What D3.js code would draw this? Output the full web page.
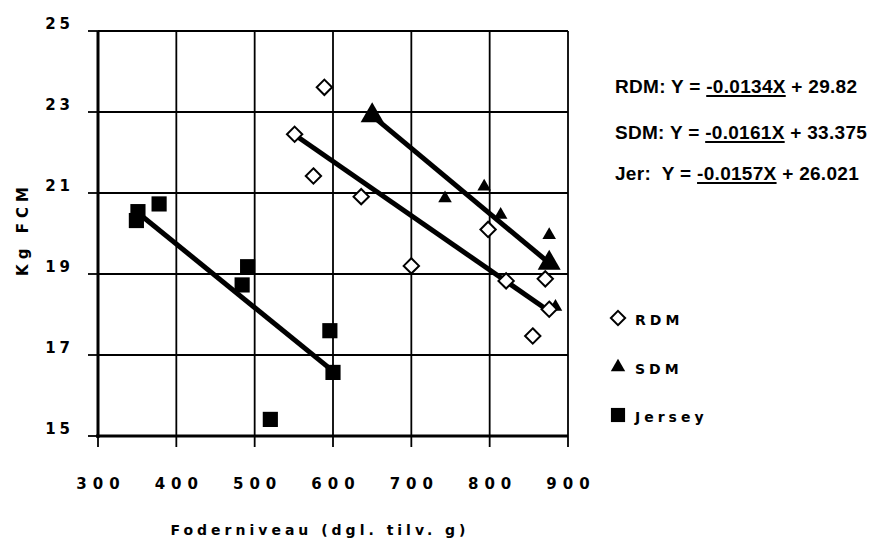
<!DOCTYPE html>
<html>
<head>
<meta charset="utf-8">
<script src="https://cdn.jsdelivr.net/npm/d3@7"></script>
<style>
  body { margin: 0; background: #fff; }
  .tick-label, .axis-title, .legend-label { font-family: "Comic Sans MS", "DejaVu Sans", sans-serif; font-weight: bold; fill: #000; }
  .eq { font-family: "Liberation Sans", Arial, sans-serif; font-weight: bold; font-size: 19px; letter-spacing: 0.3px; fill: #000; white-space: pre; }
</style>
</head>
<body>
<svg width="877" height="541"></svg>
<script>
// data
var rdmX = [589, 551, 575, 636, 700, 798, 821, 871, 876, 855];
var rdmY = [23.61, 22.45, 21.42, 20.91, 19.20, 20.10, 18.83, 18.88, 18.13, 17.47];

var sdmX = [650, 743, 793, 814, 876, 874, 884];
var sdmY = [22.9, 20.87, 21.16, 20.46, 19.96, 19.3, 18.19];

var jerX = [351, 349, 378, 491, 484, 596, 600, 520];
var jerY = [20.54, 20.32, 20.73, 19.18, 18.73, 17.60, 16.57, 15.41];

// regression lines: slope, intercept, x range
var fits = [
  {name: 'RDM', slope: -0.0134, icpt: 29.82, x0: 551, x1: 876},
  {name: 'SDM', slope: -0.0161, icpt: 33.375, x0: 650, x1: 876},
  {name: 'Jer', slope: -0.0157, icpt: 26.021, x0: 350, x1: 600}
];

var xTicks = [300, 400, 500, 600, 700, 800, 900];
var yTicks = [15, 17, 19, 21, 23, 25];

var equations = [
  {lead: 'RDM: Y = ', coef: '-0.0134X', tail: ' + 29.82'},
  {lead: 'SDM: Y = ', coef: '-0.0161X', tail: ' + 33.375'},
  {lead: 'Jer:  Y = ', coef: '-0.0157X', tail: ' + 26.021'}
];
var legendNames = ['RDM', 'SDM', 'Jersey'];

var svg = d3.select('svg');

var x = d3.scaleLinear().domain([300, 900]).range([98, 568]);
var y = d3.scaleLinear().domain([15, 25]).range([436, 31]);

// grid
svg.append('g').selectAll('line')
    .data(xTicks.slice(1)).enter().append('line')
    .attr('x1', d => x(d)).attr('x2', d => x(d))
    .attr('y1', y(25)).attr('y2', y(15))
    .attr('stroke', '#000').attr('stroke-width', 1.8);
svg.append('g').selectAll('line')
    .data(yTicks.slice(1)).enter().append('line')
    .attr('x1', x(300)).attr('x2', x(900))
    .attr('y1', d => y(d)).attr('y2', d => y(d))
    .attr('stroke', '#000').attr('stroke-width', 1.8);

// tick marks outside the plot
svg.append('g').selectAll('line')
    .data(yTicks).enter().append('line')
    .attr('x1', x(300) - 10).attr('x2', x(300))
    .attr('y1', d => y(d)).attr('y2', d => y(d))
    .attr('stroke', '#000').attr('stroke-width', 1.8);
svg.append('g').selectAll('line')
    .data(xTicks).enter().append('line')
    .attr('x1', d => x(d)).attr('x2', d => x(d))
    .attr('y1', y(15)).attr('y2', y(15) + 11)
    .attr('stroke', '#000').attr('stroke-width', 1.8);

// axis lines
svg.append('line').attr('x1', x(300)).attr('x2', x(300)).attr('y1', y(25)).attr('y2', y(15) + 2)
    .attr('stroke', '#000').attr('stroke-width', 3);
svg.append('line').attr('x1', x(300) - 2).attr('x2', x(900)).attr('y1', y(15)).attr('y2', y(15))
    .attr('stroke', '#000').attr('stroke-width', 3);

// tick labels
svg.append('g').selectAll('text')
    .data(yTicks).enter().append('text')
    .attr('class', 'tick-label')
    .attr('x', 74).attr('y', d => y(d) - 2)
    .attr('text-anchor', 'end')
    .style('font-size', '15px').style('letter-spacing', '4px')
    .text(d => d);
svg.append('g').selectAll('text')
    .data(xTicks).enter().append('text')
    .attr('class', 'tick-label')
    .attr('x', d => x(d) + 3).attr('y', 489)
    .attr('text-anchor', 'middle')
    .style('font-size', '15px').style('letter-spacing', '6px')
    .text(d => d);

// axis titles
svg.append('text').attr('class', 'axis-title')
    .attr('x', 320).attr('y', 535).attr('text-anchor', 'middle')
    .style('font-size', '14px').style('letter-spacing', '4px')
    .text('Foderniveau (dgl. tilv. g)');
svg.append('text').attr('class', 'axis-title')
    .attr('transform', 'translate(28,229) rotate(-90)')
    .attr('text-anchor', 'middle')
    .style('font-size', '15px').style('letter-spacing', '5px')
    .text('Kg FCM');

// regression lines
svg.append('g').selectAll('line')
    .data(fits).enter().append('line')
    .attr('x1', d => x(d.x0)).attr('y1', d => y(d.slope * d.x0 + d.icpt))
    .attr('x2', d => x(d.x1)).attr('y2', d => y(d.slope * d.x1 + d.icpt))
    .attr('stroke', '#000').attr('stroke-width', 5);

// markers
var diamond = d3.symbol().type(d3.symbolDiamond2).size(150);
var triangle = d3.symbol().type(d3.symbolTriangle).size(80);
var bigTriangle = d3.symbol().type(d3.symbolTriangle).size(230);
var square = d3.symbol().type(d3.symbolSquare).size(230);

// SDM fit line carries large triangle markers at its ends
var sdmFit = fits[1];
svg.append('g').selectAll('path')
    .data([sdmFit.x0, sdmFit.x1]).enter().append('path')
    .attr('d', bigTriangle)
    .attr('transform', d => 'translate(' + x(d) + ',' + y(sdmFit.slope * d + sdmFit.icpt) + ')')
    .attr('fill', '#000');

svg.append('g').selectAll('path')
    .data(sdmX.map((v, i) => [v, sdmY[i]])).enter().append('path')
    .attr('d', triangle)
    .attr('transform', d => 'translate(' + x(d[0]) + ',' + y(d[1]) + ')')
    .attr('fill', '#000');

svg.append('g').selectAll('path')
    .data(jerX.map((v, i) => [v, jerY[i]])).enter().append('path')
    .attr('d', square)
    .attr('transform', d => 'translate(' + x(d[0]) + ',' + y(d[1]) + ')')
    .attr('fill', '#000');

svg.append('g').selectAll('path')
    .data(rdmX.map((v, i) => [v, rdmY[i]])).enter().append('path')
    .attr('d', diamond)
    .attr('transform', d => 'translate(' + x(d[0]) + ',' + y(d[1]) + ')')
    .attr('fill', '#fff').attr('stroke', '#000').attr('stroke-width', 2);

// equations
var eqY = [93, 139, 180];
equations.forEach(function(e, i) {
    var t = svg.append('text').attr('class', 'eq').attr('x', 615).attr('y', eqY[i]);
    t.append('tspan').text(e.lead);
    t.append('tspan').text(e.coef);
    t.append('tspan').text(e.tail);
    var node = t.node();
    var start = node.getSubStringLength(0, e.lead.length);
    var len = node.getSubStringLength(e.lead.length, e.coef.length);
    svg.append('line')
        .attr('x1', 615 + start).attr('x2', 615 + start + len)
        .attr('y1', eqY[i] + 3).attr('y2', eqY[i] + 3)
        .attr('stroke', '#000').attr('stroke-width', 2);
});

// legend
var legY = [318, 367, 415];
var legShapes = [
  {sym: d3.symbol().type(d3.symbolDiamond2).size(130), fill: '#fff', stroke: '#000'},
  {sym: d3.symbol().type(d3.symbolTriangle).size(90), fill: '#000', stroke: 'none'},
  {sym: d3.symbol().type(d3.symbolSquare).size(200), fill: '#000', stroke: 'none'}
];
legendNames.forEach(function(n, i) {
    svg.append('path').attr('d', legShapes[i].sym)
        .attr('transform', 'translate(618,' + legY[i] + ')')
        .attr('fill', legShapes[i].fill).attr('stroke', legShapes[i].stroke).attr('stroke-width', 2);
    svg.append('text').attr('class', 'legend-label')
        .attr('x', 635).attr('y', legY[i] + 7)
        .style('font-size', '14px').style('letter-spacing', '4px')
        .text(n);
});
</script>
</body>
</html>
